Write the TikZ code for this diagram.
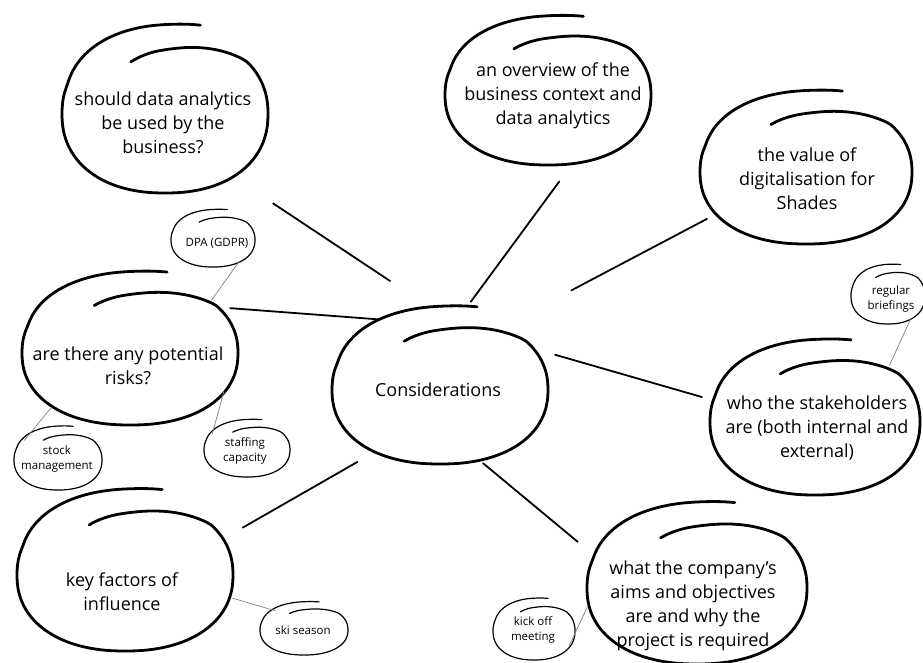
\documentclass[tikz,border=0pt]{standalone}
\usepackage{fontspec}
\setmainfont{Open Sans}
\usetikzlibrary{shapes.geometric}

\tikzset{
    bubble/.style={ellipse, inner sep=0pt},
    bigtext/.style={align=center, font=\fontsize{18}{24}\selectfont},
    smalltext/.style={align=center, font=\fontsize{11.5}{15.5}\selectfont},
    bigloop/.style={line width=2.8pt, line cap=round},
    smallloop/.style={line width=1.2pt, line cap=round},
    link/.style={line width=1.8pt, line cap=round},
    twig/.style={gray, line width=0.7pt, shorten <=4pt},
    declare function={loopr(\t)=min(1,0.72+0.28*\t/75)+0.16*max(0,\t-315)/85;
        fcos(\a)=sign(cos(\a))*abs(cos(\a))^0.9;
        fsin(\a)=sign(sin(\a))*abs(sin(\a))^0.9;}
}

\newcommand{\bubble}[7][big]{
    \node[bubble, minimum width=2*#4, minimum height=2*#5,
        label={[#1text, shift={(#6)}]center:{#7}}] (#2) at (#3) {};
    \draw[#1loop, shift={(#2.center)}] plot[smooth, domain=0:400, samples=80]
        ({#4*loopr(\x)*fcos(115-\x)}, {-#5*loopr(\x)*fsin(115-\x)});
}

\begin{document}
\begin{tikzpicture}[x=1pt, y=-1pt]
    \useasboundingbox (0,0) rectangle (923,663);

    \bubble{c}{440,390}{108}{74}{-2,0}{Considerations}
    \bubble{q1}{165,114}{103}{79}{-2,9}{should data analytics\\be used by the\\business?}
    \bubble{ov}{548,95}{103}{70}{5,1}{an overview of the\\business context and\\data analytics}
    \bubble{val}{806,172}{106}{72}{1,7}{the value of\\digitalisation for\\Shades}
    \bubble{risk}{130,353}{108}{72}{-2,13}{are there any potential\\risks?}
    \bubble{stake}{815,422}{105}{73}{2,6}{who the stakeholders\\are (both internal and\\external)}
    \bubble{key}{125,575}{108}{76}{-3,17}{key factors of\\influence}
    \bubble{what}{697,588}{110}{76}{-4,18}{what the company's\\aims and objectives\\are and why the\\project is required}

    \bubble[small]{dpa}{213,240}{42}{27}{4,3}{DPA (GDPR)}
    \bubble[small]{stock}{58,460}{44}{30}{-1,-1}{stock\\management}
    \bubble[small]{staff}{247,450}{43}{27}{-2,1}{staffing\\capacity}
    \bubble[small]{brief}{888,296}{37}{28}{3,3}{regular\\briefings}
    \bubble[small]{kick}{534,631}{41}{29}{-1,-1}{kick off\\meeting}
    \bubble[small]{ski}{304,630}{44}{25}{-1,0}{ski season}

    \draw[link, shorten <=63pt, shorten >=51pt] (c.88) -- (q1.-43);
    \draw[link, shorten <=19pt, shorten >=23pt] (c.75.5) -- (ov.-70.7);
    \draw[link, shorten <=81pt, shorten >=13pt] (c.46.7) -- (val.205);
    \draw[link, shorten <=21pt, shorten >=17pt] (c.120) -- (risk.29);
    \draw[link, shorten <=28pt, shorten >=13pt] (c.26) -- (stake.168);
    \draw[link, shorten <=23pt, shorten >=25pt] (c.224) -- (key.20);
    \draw[link, shorten <=6pt, shorten >=24pt] (c.299) -- (what.163.5);

    \draw[twig] (risk.32) -- (dpa.-39);
    \draw[twig] (risk.214) -- (stock.150);
    \draw[twig] (risk.340) -- (staff.155);
    \draw[twig] (stake.36) -- (brief.-44);
    \draw[twig] (what.188) -- (kick.-24);
    \draw[twig] (key.-12) -- (ski.146);
\end{tikzpicture}
\end{document}
